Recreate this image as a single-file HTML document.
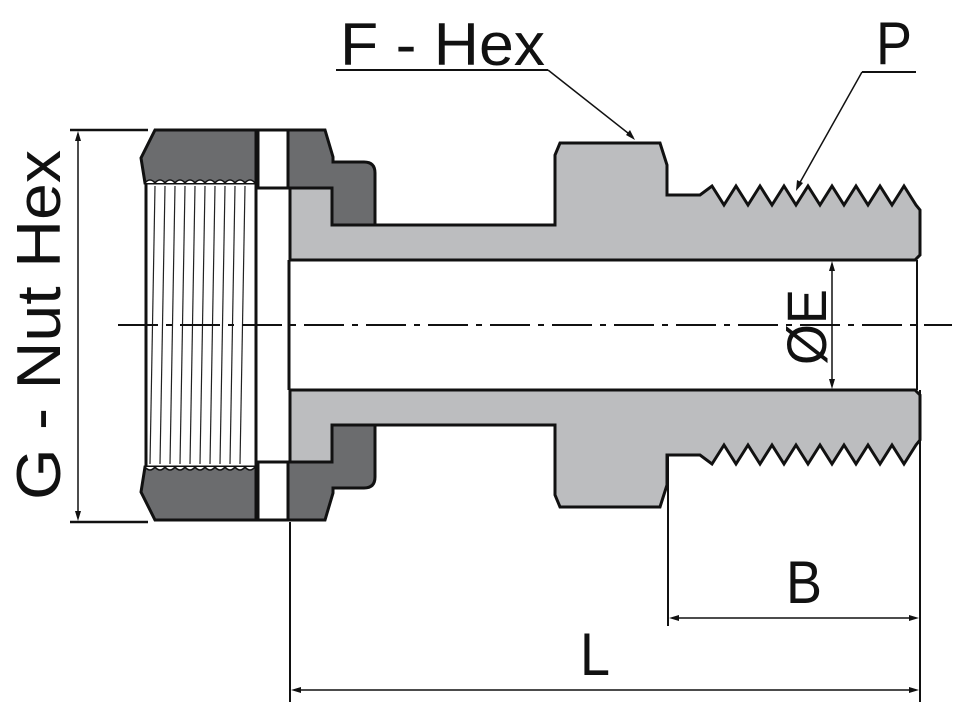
<!DOCTYPE html>
<html><head><style>body{margin:0;background:#fff}svg{display:block}</style></head><body>
<svg width="959" height="712" viewBox="0 0 959 712" xmlns="http://www.w3.org/2000/svg">
<defs>
<g id="half">
  <path d="M290,188 L332,188 L332,225 L555,225 L555,155 L560,143 L660,143 L667,165 L667,195 L700,195 L712,186 L724,205 L736,186 L748,205 L760,186 L772,205 L784,186 L796,205 L808,186 L820,205 L832,186 L844,205 L856,186 L868,205 L880,186 L892,205 L904,186 L916,205 L920,210 L920,255 L915,260 L290,260 Z" fill="#bcbdbf" stroke="#111" stroke-width="3" stroke-linejoin="miter"/>
  <path d="M155,130 L256,130 L256,183 L145,183 L141,158 Z" fill="#6b6c6e" stroke="#111" stroke-width="3"/>
  <path d="M288,130 L325,130 L333,157 L333,162 L364,162 Q375,162 375,173 L375,225 L332,225 L332,188 L288,188 Z" fill="#6b6c6e" stroke="#111" stroke-width="3"/>
  <rect x="258" y="130" width="30" height="58" fill="#fff" stroke="#111" stroke-width="3"/>
  <path d="M145,183 q5,-6 10,0 q5,-6 10,0 q5,-6 10,0 q5,-6 10,0 q5,-6 10,0 q5,-6 10,0 q5,-6 10,0 q5,-6 10,0 q5,-6 10,0 q5,-6 10,0 q5,-6 10,0" fill="#fff" stroke="#111" stroke-width="1.5"/>
</g>
</defs>
<use href="#half"/>
<use href="#half" transform="translate(0,650) scale(1,-1)"/>
<g stroke="#222" stroke-width="1.2">
  <line x1="155" y1="186" x2="150" y2="464"/><line x1="165" y1="186" x2="160" y2="464"/>
  <line x1="175" y1="186" x2="170" y2="464"/><line x1="185" y1="186" x2="180" y2="464"/>
  <line x1="195" y1="186" x2="190" y2="464"/><line x1="205" y1="186" x2="200" y2="464"/>
  <line x1="215" y1="186" x2="210" y2="464"/><line x1="225" y1="186" x2="220" y2="464"/>
  <line x1="235" y1="186" x2="230" y2="464"/><line x1="245" y1="186" x2="240" y2="464"/>
</g>
<line x1="146" y1="183" x2="146" y2="467" stroke="#111" stroke-width="3"/>
<line x1="256" y1="183" x2="256" y2="467" stroke="#111" stroke-width="3"/>
<line x1="289" y1="260" x2="289" y2="390" stroke="#111" stroke-width="3"/>
<line x1="917" y1="260" x2="917" y2="390" stroke="#111" stroke-width="2"/>
<line x1="118" y1="325" x2="952" y2="325" stroke="#111" stroke-width="2" stroke-dasharray="40,8,6,8"/>
<g stroke="#111" stroke-width="2.5">
<line x1="70" y1="130" x2="148" y2="130"/><line x1="70" y1="522" x2="148" y2="522"/>
</g>
<line x1="78" y1="134" x2="78" y2="518" stroke="#111" stroke-width="1.5"/>
<path d="M78,131 l-3,10 h6 z M78,521 l-3,-10 h6 z" fill="#111"/>
<text transform="translate(60,500) rotate(-90)" textLength="350" lengthAdjust="spacingAndGlyphs" font-family="Liberation Sans, sans-serif" font-size="62" fill="#111">G - Nut Hex</text>
<text x="340" y="65" textLength="205" lengthAdjust="spacingAndGlyphs" font-family="Liberation Sans, sans-serif" font-size="60" fill="#111">F - Hex</text>
<line x1="336" y1="70" x2="548" y2="70" stroke="#111" stroke-width="2"/>
<line x1="548" y1="70" x2="633" y2="137" stroke="#111" stroke-width="1.5"/>
<path d="M635,140 l-9,-5 l4,-5 z" fill="#111"/>
<text x="876" y="64" textLength="36" lengthAdjust="spacingAndGlyphs" font-family="Liberation Sans, sans-serif" font-size="60" fill="#111">P</text>
<line x1="862" y1="72" x2="916" y2="72" stroke="#111" stroke-width="2"/>
<line x1="862" y1="72" x2="798" y2="186" stroke="#111" stroke-width="1.5"/>
<path d="M796,191 l1,-11 l6,3 z" fill="#111"/>
<line x1="832" y1="264" x2="832" y2="386" stroke="#111" stroke-width="1.5"/>
<path d="M832,261 l-3,10 h6 z M832,389 l-3,-10 h6 z" fill="#111"/>
<text transform="translate(826,365) rotate(-90)" textLength="76" lengthAdjust="spacingAndGlyphs" font-family="Liberation Sans, sans-serif" font-size="56" fill="#111">ØE</text>
<g stroke="#111" stroke-width="2">
<line x1="290" y1="522" x2="290" y2="702"/>
<line x1="920" y1="390" x2="920" y2="702"/>
<line x1="668" y1="455" x2="668" y2="626"/>
</g>
<line x1="672" y1="618" x2="916" y2="618" stroke="#111" stroke-width="1.5"/>
<path d="M669,618 l10,-3 v6 z M919,618 l-10,-3 v6 z" fill="#111"/>
<text x="786" y="603" textLength="36" lengthAdjust="spacingAndGlyphs" font-family="Liberation Sans, sans-serif" font-size="60" fill="#111">B</text>
<text x="580" y="675" textLength="30" lengthAdjust="spacingAndGlyphs" font-family="Liberation Sans, sans-serif" font-size="60" fill="#111">L</text>
<line x1="294" y1="690" x2="916" y2="690" stroke="#111" stroke-width="1.5"/>
<path d="M291,690 l10,-3 v6 z M919,690 l-10,-3 v6 z" fill="#111"/>
</svg>
</body></html>
